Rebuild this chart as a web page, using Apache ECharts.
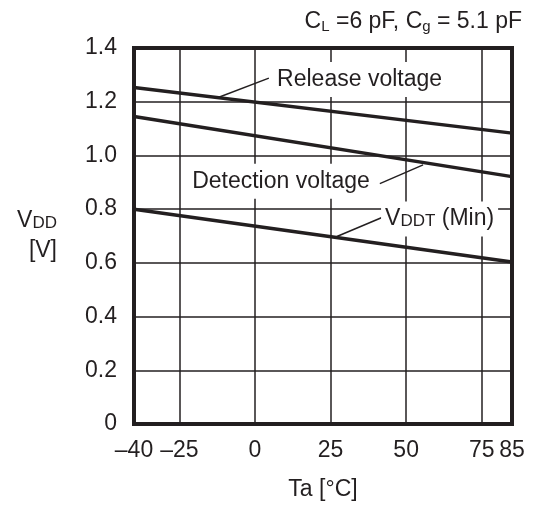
<!DOCTYPE html>
<html><head><meta charset="utf-8">
<script src="https://cdn.jsdelivr.net/npm/echarts@6/dist/echarts.min.js"></script>
<style>html,body{margin:0;padding:0;background:#fff}#c{width:537px;height:506px}</style>
</head><body><div id="c"></div>
<script>
const temps = [-40, 85];
const releaseV = [1.253, 1.083];
const detectV = [1.145, 0.921];
const vddtMin = [0.800, 0.603];
const xTicks = [-40, -25, 0, 25, 50, 75, 85];
const seriesNames = ['Release voltage', 'Detection voltage', 'VDDT (Min)'];
const labelText = ['Release voltage', 'Detection voltage', 'V{sub|DDT} (Min)'];
const labelAt = [[6.0, 1.283], [-22.1, 0.904], [41.7, 0.763]];
const leaderFrom = [[4.6, 1.288], [41.3, 0.895], [42.0, 0.769]];
const leaderTo = [[-12.6, 1.214], [55.6, 0.965], [27.1, 0.698]];

const FONT = 'Arial, "Liberation Sans", sans-serif';
const INK = '#231f20';
const FS = 23;
const SUB = 15;
const SC = 17;

const values = [releaseV, detectV, vddtMin];
const series = values.map((v, i) => ({
  name: seriesNames[i],
  type: 'line',
  data: temps.map((t, k) => [t, v[k]]),
  symbol: 'none',
  lineStyle: { color: INK, width: 3.5 },
  z: 3,
  markLine: {
    silent: true, symbol: 'none', animation: false,
    lineStyle: { color: INK, width: 1.5, type: 'solid' },
    label: { show: false },
    data: [[{ coord: leaderFrom[i] }, { coord: leaderTo[i] }]]
  },
  markPoint: {
    silent: true, animation: false, symbol: 'rect', symbolSize: 0,
    data: [{ coord: labelAt[i] }],
    label: {
      show: true, position: 'right', distance: 0,
      formatter: labelText[i],
      color: INK, fontFamily: FONT, fontSize: FS,
      backgroundColor: '#fff', padding: [6, 4, 6, 4],
      rich: { sub: { fontSize: SC, fontFamily: FONT, color: INK, padding: [4, 0, 0, 0] } }
    }
  }
}));

const chart = echarts.init(document.getElementById('c'), null, { renderer: 'canvas' });
chart.setOption({
  animation: false,
  backgroundColor: '#fff',
  title: {
    text: 'C{sub|L} =6 pF, C{sub|g} = 5.1 pF',
    right: 10, top: 5,
    textStyle: {
      fontFamily: FONT, fontSize: FS, fontWeight: 'normal', color: INK,
      rich: { sub: { fontSize: SUB, fontFamily: FONT, color: INK, padding: [9, 0, 0, 0] } }
    }
  },
  grid: {
    left: 134, right: 25, top: 48, bottom: 81,
    show: true, borderColor: INK, borderWidth: 4, backgroundColor: 'transparent'
  },
  xAxis: {
    type: 'value', min: -40, max: 85,
    name: 'Ta [°C]', nameLocation: 'middle', nameGap: 54,
    nameTextStyle: { fontFamily: FONT, fontSize: FS, color: INK },
    axisLine: { show: false },
    axisTick: { show: false, customValues: xTicks },
    axisLabel: {
      customValues: xTicks, margin: 15,
      fontFamily: FONT, fontSize: FS, color: INK,
      formatter: v => String(v).replace('-', '\u2013')
    },
    splitLine: { show: true, lineStyle: { color: INK, width: 1.5 } }
  },
  yAxis: {
    type: 'value', min: 0, max: 1.4, interval: 0.2,
    name: 'V{sub|DD}\n[V]', nameLocation: 'middle', nameRotate: 0, nameGap: 77,
    nameTextStyle: {
      fontFamily: FONT, fontSize: FS, color: INK, align: 'right', lineHeight: 30,
      rich: { sub: { fontSize: SC, fontFamily: FONT, color: INK, padding: [4, 0, 0, 0] } }
    },
    axisLine: { show: false },
    axisTick: { show: false },
    axisLabel: {
      margin: 17, fontFamily: FONT, fontSize: FS, color: INK,
      formatter: v => (v === 0 ? '0' : v.toFixed(1))
    },
    splitLine: { show: true, lineStyle: { color: INK, width: 1.5 } }
  },
  series: series
});
</script>
</body></html>
